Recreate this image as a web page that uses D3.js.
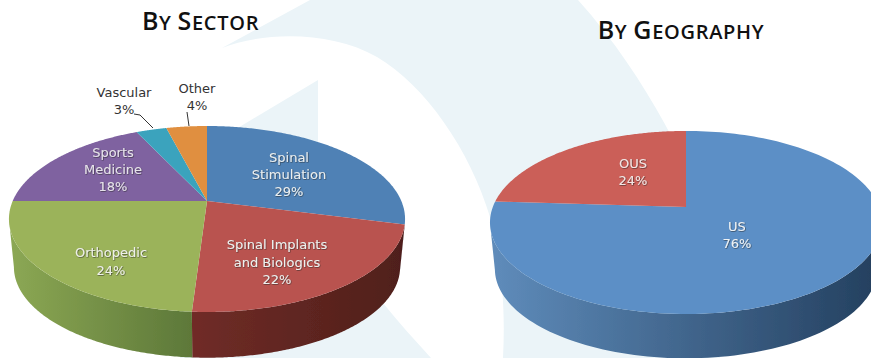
<!DOCTYPE html>
<html><head><meta charset="utf-8">
<script src="https://cdn.jsdelivr.net/npm/d3@7"></script>
<style>
html,body{margin:0;padding:0;background:#fff}
svg{display:block}
.lab{font-family:"DejaVu Sans",sans-serif;font-size:13px;text-anchor:middle;dominant-baseline:central}
.title{font-family:"Open Sans",sans-serif;font-weight:600;fill:#111;text-anchor:middle;letter-spacing:0.7px}
</style></head><body>
<svg id="c" width="871" height="358"></svg>
<script>
// data
const sectorCategories = ["Spinal Stimulation","Spinal Implants and Biologics","Orthopedic","Sports Medicine","Vascular","Other"];
const sectorValues = [29,22,24,18,3,4];
const geoCategories = ["US","OUS"];
const geoValues = [76,24];

// styles and layout
const sectorTop = ["#4f81b5","#b9534f","#9bb35a","#7f62a0","#3ba3bd","#e08f3f"];
const sectorWall = [["#3a5f86","#2f4f70"],["#702c27","#4f1f1a"],["#8ca854","#5d7839"],["#5f4a78","#5f4a78"],["#2c7a8e","#2c7a8e"],["#a86a2e","#a86a2e"]];
const geoTop = ["#5c8fc6","#cb5f58"];
const geoWall = [["#5f8cbb","#233f5e"],["#964540","#964540"]];
const sectorLabels = [
 {x:289,y:[157,174,191],t:["Spinal","Stimulation","29%"],fill:"#e9eef0"},
 {x:277,y:[244,262,279],t:["Spinal Implants","and Biologics","22%"],fill:"#eef0ee"},
 {x:111,y:[252,270],t:["Orthopedic","24%"],fill:"#eef0e8"},
 {x:113,y:[152,169,186],t:["Sports","Medicine","18%"],fill:"#e6e2ea"},
 {x:124,y:[92,109],t:["Vascular","3%"],fill:"#333"},
 {x:197,y:[88,105],t:["Other","4%"],fill:"#333"}];
const geoLabels = [
 {x:737,y:[226,243],t:["US","76%"],fill:"#eef2f5"},
 {x:633,y:[163,180],t:["OUS","24%"],fill:"#f3e6e4"}];
const sectorGeom = {cx:207,cy:201,k:0.1935,a:89.5,b:194.3,depth:48.5,shrink:0.975};
const geoGeom = {cx:686,cy:207,k:0.169,a:88.9,b:193.2,depth:47,shrink:0.975};

const svg = d3.select("#c");
const defs = svg.append("defs");
const soft = defs.append("filter").attr("id","soft").attr("x","-10%").attr("y","-10%").attr("width","120%").attr("height","120%");
soft.append("feGaussianBlur").attr("stdDeviation",0.45);
const shadow = defs.append("filter").attr("id","ts").attr("x","-20%").attr("y","-30%").attr("width","140%").attr("height","160%");
shadow.append("feDropShadow").attr("dx",0.6).attr("dy",0.6).attr("stdDeviation",0.6).attr("flood-color","#222").attr("flood-opacity",0.75);

// pale background swooshes
const bg = svg.append("g").attr("fill","#ebf4f8");
bg.append("path").attr("d","M310,0 L222,48 C262,32 330,30 377,57 C425,85 470,150 490,217 C500,255 506,300 503,358 L720,358 L720,240 C690,170 650,80 578,0 Z");
bg.append("path").attr("d","M318,80 L226,135 L318,150 Z");
bg.append("path").attr("d","M383,303 C398,322 415,340 431,358 L180,358 L180,300 Z");

function drawPie(values, top, wall, labels, g) {
  const pie = d3.pie().sort(null).startAngle(0).endAngle(2*Math.PI)(values);
  const proj = (ang, r=1) => {
    const u = r*Math.sin(ang), v = -r*Math.cos(ang), d = 1 - g.k*v;
    return [g.cx + g.b*u/d, g.cy + g.a*v/d];
  };
  const low = ([x,y]) => [g.cx+(x-g.cx)*g.shrink, g.cy+(y-g.cy)*g.shrink+g.depth];
  const line = d3.line();
  const root = svg.append("g").attr("filter","url(#soft)");
  const samples = s => d3.range(0,161).map(i => s.startAngle+(s.endAngle-s.startAngle)*i/160);
  const id = "g"+g.cx;
  // side wall: only the visible (front) part of the rim
  pie.forEach((s,i)=>{
    const angs = samples(s).filter(a => -Math.cos(a) >= g.k);
    if (angs.length < 2) return;
    const rim = angs.map(a=>proj(a));
    const xs = rim.map(p=>p[0]);
    const grad = defs.append("linearGradient").attr("id",id+"_"+i).attr("gradientUnits","userSpaceOnUse")
      .attr("x1",d3.min(xs)).attr("x2",d3.max(xs)).attr("y1",0).attr("y2",0);
    grad.append("stop").attr("offset",0).attr("stop-color",wall[i][0]);
    grad.append("stop").attr("offset",1).attr("stop-color",wall[i][1]);
    root.append("path").attr("d",line(rim.concat(rim.map(low).reverse()))+"Z").attr("fill",`url(#${id}_${i})`);
  });
  // top faces
  pie.forEach((s,i)=>{
    const pts = [[g.cx,g.cy]].concat(samples(s).map(a=>proj(a)));
    root.append("path").attr("d",line(pts)+"Z").attr("fill",top[i]);
  });
  // labels
  labels.forEach(l=>{
    const dark = l.fill==="#333";
    l.t.forEach((t,j)=>{
      svg.append("text").attr("class","lab").attr("x",l.x).attr("y",l.y[j])
        .attr("fill",l.fill).attr("filter",dark?null:"url(#ts)").text(t);
    });
  });
}
drawPie(sectorValues,sectorTop,sectorWall,sectorLabels,sectorGeom);
drawPie(geoValues,geoTop,geoWall,geoLabels,geoGeom);

// leader lines
const leaders = [[[134,114],[140,115],[153,128]],[[187,112],[189,126]]];
leaders.forEach(p=>svg.append("path").attr("d",d3.line()(p)).attr("fill","none").attr("stroke","#333").attr("stroke-width",1));

// titles
function title(x,y,big,rest){
  const t = svg.append("text").attr("class","title").attr("x",x).attr("y",y);
  big.forEach((b,i)=>{
    t.append("tspan").attr("font-size",25).text(b);
    t.append("tspan").attr("font-size",20).text(rest[i]);
  });
}
title(200.5,30,["B","S"],["Y ","ECTOR"]);
title(681,39,["B","G"],["Y ","EOGRAPHY"]);
</script>
</body></html>
